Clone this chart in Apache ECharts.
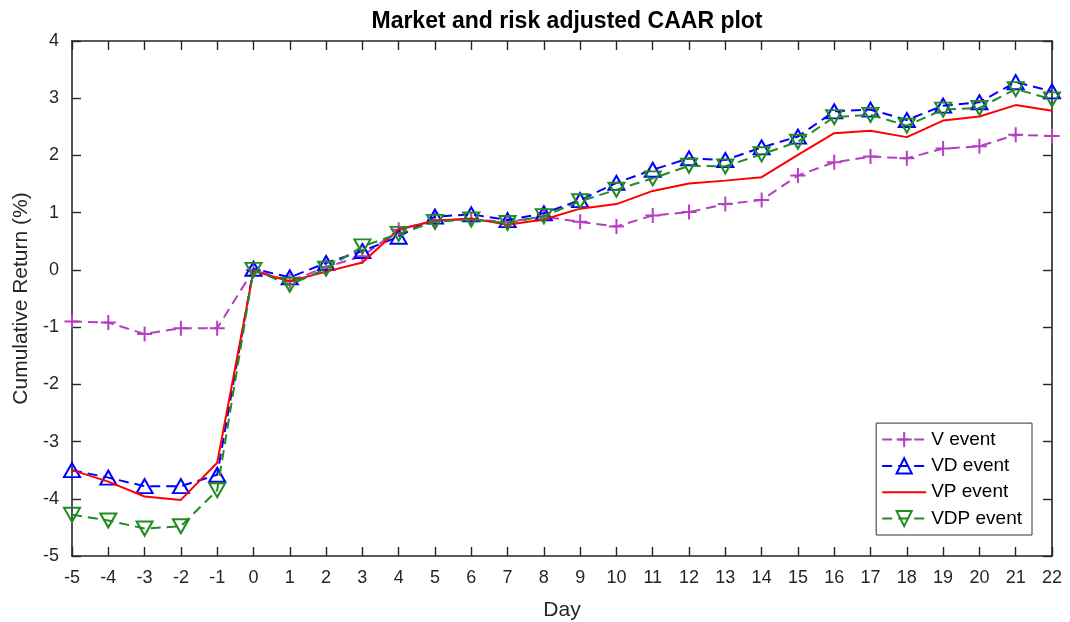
<!DOCTYPE html>
<html>
<head>
<meta charset="utf-8">
<script src="https://cdn.jsdelivr.net/npm/echarts@6/dist/echarts.min.js"></script>
<style>
  html, body { margin: 0; padding: 0; background: #fff; }
  #chart { width: 1070px; height: 622px; }
</style>
</head>
<body>
<div id="chart"></div>
<script>
// event window days
const days = [-5, -4, -3, -2, -1, 0, 1, 2, 3, 4, 5, 6, 7, 8, 9, 10, 11, 12, 13, 14, 15, 16, 17, 18, 19, 20, 21, 22];

const vEvent   = [-0.90, -0.92, -1.12, -1.02, -1.02, 0.00, -0.20, 0.05, 0.24, 0.70, 0.87, 0.88, 0.84, 0.93, 0.84, 0.76, 0.95, 1.01, 1.15, 1.22, 1.65, 1.88, 1.98, 1.95, 2.12, 2.16, 2.36, 2.34];
const vdEvent  = [-3.50, -3.63, -3.78, -3.78, -3.58, 0.02, -0.13, 0.12, 0.33, 0.58, 0.93, 0.97, 0.87, 0.99, 1.22, 1.52, 1.75, 1.95, 1.92, 2.14, 2.33, 2.77, 2.80, 2.62, 2.87, 2.93, 3.28, 3.12];
const vpEvent  = [-3.50, -3.70, -3.96, -4.02, -3.37, -0.02, -0.20, -0.03, 0.13, 0.71, 0.86, 0.90, 0.79, 0.88, 1.07, 1.15, 1.38, 1.51, 1.56, 1.62, 2.01, 2.39, 2.43, 2.32, 2.61, 2.68, 2.88, 2.78];
const vdpEvent = [-4.28, -4.38, -4.52, -4.48, -3.85, 0.00, -0.26, 0.02, 0.41, 0.63, 0.84, 0.88, 0.82, 0.94, 1.20, 1.40, 1.60, 1.82, 1.81, 2.02, 2.24, 2.67, 2.71, 2.52, 2.80, 2.83, 3.16, 2.98];

const xTicks = { min: -5, max: 22, step: 1 };
const yTicks = { min: -5, max: 4, step: 1 };

const pairs = (vals) => days.map((d, i) => [d, vals[i]]);

const chart = echarts.init(document.getElementById('chart'));
const FONT = '"Liberation Sans", Arial, sans-serif';
const TXT = '#262626';

const plus = 'path://M0,-10L0,10M-10,0L10,0';

const axisBase = {
  type: 'value',
  axisLine: { show: true, onZero: false, lineStyle: { color: TXT, width: 1.6 } },
  axisTick: { show: true, inside: true, length: 9, lineStyle: { color: TXT, width: 1.4 } },
  splitLine: { show: false },
  axisLabel: { color: TXT, fontSize: 18, fontFamily: FONT }
};

const option = {
  animation: false,
  backgroundColor: '#fff',
  title: {
    text: 'Market and risk adjusted CAAR plot',
    left: 562,
    top: 5,
    textAlign: 'center',
    textStyle: { fontSize: 23, fontWeight: 'bold', color: '#000', fontFamily: FONT }
  },
  grid: { left: 72, right: 18, top: 41, bottom: 66, outerBoundsMode: 'none' },
  legend: {
    orient: 'vertical',
    right: 38,
    bottom: 87,
    itemWidth: 44,
    itemHeight: 19,
    itemGap: 7.3,
    padding: [7, 10, 7, 5],
    backgroundColor: '#fff',
    borderColor: '#333',
    borderWidth: 1,
    textStyle: { fontSize: 19, color: '#000', fontFamily: FONT },
    data: ['V event', 'VD event', 'VP event', 'VDP event']
  },
  xAxis: [
    Object.assign({}, axisBase, {
      min: xTicks.min, max: xTicks.max, interval: xTicks.step,
      name: 'Day', nameLocation: 'middle', nameGap: 44,
      nameTextStyle: { fontSize: 21, color: TXT, fontFamily: FONT },
      axisLabel: Object.assign({}, axisBase.axisLabel, { margin: 13 })
    }),
    Object.assign({}, axisBase, {
      position: 'top', min: xTicks.min, max: xTicks.max, interval: xTicks.step,
      axisLabel: { show: false }
    })
  ],
  yAxis: [
    Object.assign({}, axisBase, {
      min: yTicks.min, max: yTicks.max, interval: yTicks.step,
      name: 'Cumulative Return (%)', nameLocation: 'middle', nameGap: 36,
      nameTextStyle: { fontSize: 21, color: TXT, fontFamily: FONT },
      axisLabel: Object.assign({}, axisBase.axisLabel, { margin: 13 })
    }),
    Object.assign({}, axisBase, {
      position: 'right', min: yTicks.min, max: yTicks.max, interval: yTicks.step,
      axisLabel: { show: false }
    })
  ],
  series: [
    {
      name: 'V event', type: 'line', data: pairs(vEvent),
      symbol: plus, symbolSize: 15,
      lineStyle: { color: '#B43FC0', width: 2, type: [10, 6] },
      itemStyle: { color: '#B43FC0', borderColor: '#B43FC0', borderWidth: 2 },
      z: 2
    },
    {
      name: 'VD event', type: 'line', data: pairs(vdEvent),
      symbol: 'triangle', symbolSize: [16, 14],
      lineStyle: { color: '#0000FF', width: 2, type: [10, 6] },
      itemStyle: { color: 'rgba(0,0,0,0)', borderColor: '#0000FF', borderWidth: 2 },
      z: 3
    },
    {
      name: 'VP event', type: 'line', data: pairs(vpEvent),
      symbol: 'none',
      lineStyle: { color: '#FF0000', width: 2 },
      // transparent so the legend shows only the line
      itemStyle: { color: 'rgba(0,0,0,0)', borderWidth: 0 },
      z: 4
    },
    {
      name: 'VDP event', type: 'line', data: pairs(vdpEvent),
      symbol: 'triangle', symbolRotate: 180, symbolSize: [16, 14],
      lineStyle: { color: '#228B22', width: 2, type: [10, 6] },
      itemStyle: { color: 'rgba(0,0,0,0)', borderColor: '#228B22', borderWidth: 2 },
      z: 5
    }
  ]
};

chart.setOption(option);
</script>
</body>
</html>
